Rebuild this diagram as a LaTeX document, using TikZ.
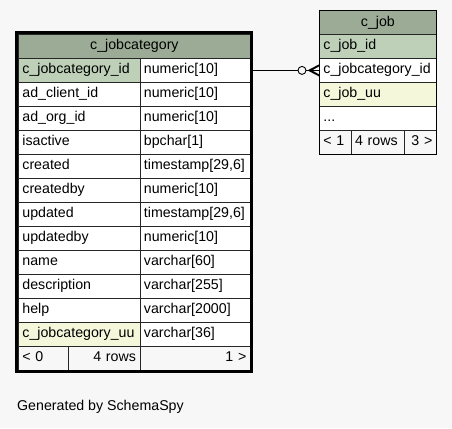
\documentclass[tikz,border=0pt]{standalone}
\usepackage{fontspec}
\setmainfont{Liberation Sans}
\definecolor{bgc}{HTML}{F7F7F7}
\definecolor{headc}{HTML}{9BAB96}
\definecolor{pkc}{HTML}{BED1B8}
\definecolor{uuc}{HTML}{F4F7DA}
\begin{document}
\begin{tikzpicture}[x=1pt,y=-1pt,
  cell/.style={draw=black!85, line width=0.8pt, anchor=north west, inner xsep=4pt, inner ysep=0pt,
    minimum height=24pt, font=\fontsize{14.2}{16}\selectfont, text height=10pt, text depth=3pt, align=left},
  hcell/.style={cell, fill=headc, align=center},
  wcell/.style={cell, fill=white},
  fcell/.style={cell, fill=bgc},
  conn/.style={draw=black, line width=0.9pt}]
\fill[bgc] (0,0) rectangle (452,428);
\useasboundingbox (0,0) rectangle (452,428);

% ---- left table c_jobcategory ----
\node[hcell, text width=224pt] (lhead) at (18,34) {c\_jobcategory};
\foreach \i/\nm/\ty/\fc in {1/c\_jobcategory\_id/numeric[10]/pkc,
  2/ad\_client\_id/numeric[10]/white,
  3/ad\_org\_id/numeric[10]/white,
  4/isactive/bpchar[1]/white,
  5/created/timestamp[29{,}6]/white,
  6/createdby/numeric[10]/white,
  7/updated/timestamp[29{,}6]/white,
  8/updatedby/numeric[10]/white,
  9/name/varchar[60]/white,
  10/description/varchar[255]/white,
  11/help/varchar[2000]/white,
  12/c\_jobcategory\_uu/varchar[36]/uuc}{
  \node[cell, fill=\fc, text width=113.5pt] (lc\i) at (18,{58+24*(\i-1)}) {\nm};
  \node[wcell, text width=102.5pt] (lt\i) at (139.5,{58+24*(\i-1)}) {\ty};
}
\node[fcell, text width=41.5pt] (lf1) at (18,346) {< 0};
\node[fcell, text width=64pt, align=right] (lf2) at (67.5,346) {4 rows};
\node[fcell, text width=102.5pt, align=right] (lf3) at (139.5,346) {1 >};

% ---- right table c_job ----
\node[hcell, text width=109pt] (rhead) at (319,10.5) {c\_job};
\node[cell, fill=pkc, text width=109pt] (rc1) at (319,34) {c\_job\_id};
\node[wcell, text width=109pt] (rc2) at (319,58) {c\_jobcategory\_id};
\node[cell, fill=uuc, text width=109pt] (rc3) at (319,82) {c\_job\_uu};
\node[wcell, text width=109pt] (rc4) at (319,106) {...};
\node[fcell, text width=23.7pt] (rf1) at (319,130) {< 1};
\node[fcell, text width=45.3pt] (rf2) at (350.7,130) {4 rows};
\node[fcell, text width=24pt, align=right] (rf3) at (404,130) {3 >};
\draw[black, line width=1pt] (rhead.north west) rectangle (rf3.south east);

% ---- connector ----
\draw[conn] (lt1.east) -- (rc2.west);
\coordinate (ring) at ([xshift=-17pt]rc2.west);
\draw[conn, fill=bgc] (ring) circle (4pt);
\coordinate (apex) at ([xshift=-11.5pt]rc2.west);
\fill[black] ([yshift=-6pt]rc2.west) -- (apex) -- ([yshift=6pt]rc2.west)
  -- ([yshift=4pt]rc2.west) -- ([xshift=-7pt]rc2.west) -- ([yshift=-4pt]rc2.west) -- cycle;

% ---- thick border of focused table ----
\draw[black, line width=3pt] (16.5,32.5) rectangle (251.5,371.5);

\node[anchor=west, inner sep=0pt, font=\fontsize{14.2}{16}\selectfont] (gen) at (17,407) {Generated by SchemaSpy};
\end{tikzpicture}
\end{document}
